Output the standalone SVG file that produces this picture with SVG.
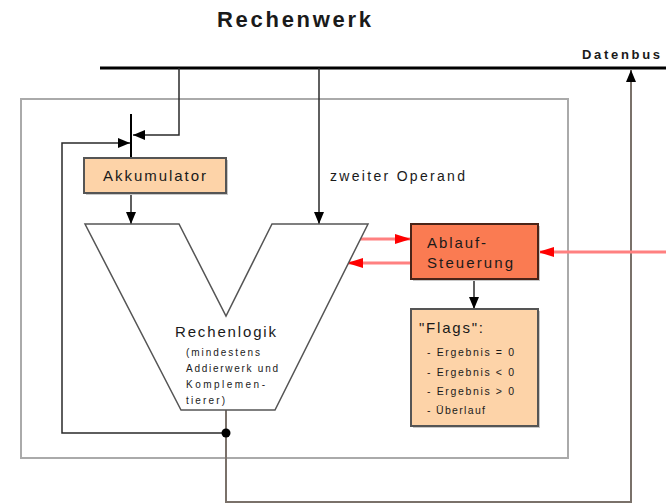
<svg xmlns="http://www.w3.org/2000/svg" width="666" height="504" viewBox="0 0 666 504">
<style>
text{font-family:"Liberation Sans",Arial,sans-serif;fill:#1a1a1a}
.c{fill:none;stroke:#2a2a2a;stroke-width:1.5}
.g{fill:none;stroke:#7a716a;stroke-width:2}
.r{fill:none;stroke:#ff8080;stroke-width:3}
.box{stroke:#555;stroke-width:2}
.sh{fill:#c8c8c8}
</style>
<defs>
<marker id="ab" markerUnits="userSpaceOnUse" markerWidth="12" markerHeight="10" viewBox="0 0 12 10" refX="12" refY="5" orient="auto">
<path d="M0,0 L12,5 L0,10 Z" fill="#000"/>
</marker>
<marker id="ar" markerUnits="userSpaceOnUse" markerWidth="16" markerHeight="10" viewBox="0 0 16 10" refX="16" refY="5" orient="auto">
<path d="M0,0 L16,5 L0,10 Z" fill="#ff0000"/>
</marker>
</defs>
<rect width="666" height="504" fill="#fff"/>
<text x="217" y="27" font-size="22" font-weight="bold" textLength="154" lengthAdjust="spacing">Rechenwerk</text>
<rect id="frame" x="21" y="99" width="547" height="359" fill="none" stroke="#aaa" stroke-width="2"/>
<g id="connectors">
<line x1="100" y1="68" x2="666" y2="68" stroke="#000" stroke-width="3"/>
<path class="c" d="M179,68 V135 H133" marker-end="url(#ab)"/>
<line x1="131" y1="114" x2="131" y2="158" stroke="#000" stroke-width="2"/>
<path class="c" d="M226,433 H62 V143 H130" marker-end="url(#ab)"/>
<path class="g" d="M226,410 V502 H631 V70" marker-end="url(#ab)"/>
<path class="c" d="M131,193 V224" marker-end="url(#ab)"/>
<path class="c" d="M319,68 V224" marker-end="url(#ab)"/>
<path class="c" d="M474,279 V309" stroke-width="2" marker-end="url(#ab)"/>
<path class="r" d="M360,239 H411" marker-end="url(#ar)"/>
<path class="r" d="M411,263 H347" marker-end="url(#ar)"/>
<path class="r" stroke-width="1.5" d="M666,252 H538" marker-end="url(#ar)"/>
<circle cx="226" cy="433" r="4.5" fill="#000"/>
</g>
<text x="582" y="59" font-size="13" font-weight="bold" textLength="78" lengthAdjust="spacing">Datenbus</text>
<text x="330" y="181" font-size="14" textLength="135" lengthAdjust="spacing">zweiter Operand</text>
<g id="akkumulator">
<rect class="sh" x="86" y="160" width="142" height="35"/>
<rect class="box" x="84" y="158" width="142" height="35" fill="#fdd3a8"/>
<text x="103" y="181" font-size="15" textLength="103" lengthAdjust="spacing">Akkumulator</text>
</g>
<g id="rechenlogik">
<path d="M85,224 H179 L226,316 L272,224 H368 L275,410 H181 Z" fill="#fff" stroke="#555" stroke-width="1.5"/>
<text x="175" y="337" font-size="15" textLength="101" lengthAdjust="spacing">Rechenlogik</text>
<text x="186" y="356" font-size="10" textLength="74" lengthAdjust="spacing">(mindestens</text>
<text x="186" y="372" font-size="10" textLength="92" lengthAdjust="spacing">Addierwerk und</text>
<text x="186" y="388" font-size="10" textLength="79" lengthAdjust="spacing">Komplemen-</text>
<text x="186" y="404" font-size="10" textLength="39" lengthAdjust="spacing">tierer)</text>
</g>
<g id="ablaufsteuerung">
<rect class="sh" x="413" y="226" width="127" height="55"/>
<rect x="411" y="224" width="127" height="55" fill="#fa7b52" stroke="#4a2418" stroke-width="2"/>
<text x="427" y="248" font-size="15" textLength="59" lengthAdjust="spacing">Ablauf-</text>
<text x="427" y="268" font-size="15" textLength="86" lengthAdjust="spacing">Steuerung</text>
</g>
<g id="flags">
<rect class="sh" x="413" y="311" width="127" height="117"/>
<rect class="box" x="411" y="309" width="127" height="117" fill="#fdd3a8"/>
<text x="419" y="333" font-size="15" textLength="64" lengthAdjust="spacing">"Flags":</text>
<text x="427" y="356" font-size="10.5" textLength="87" lengthAdjust="spacing">- Ergebnis = 0</text>
<text x="427" y="376" font-size="10.5" textLength="87" lengthAdjust="spacing">- Ergebnis &lt; 0</text>
<text x="427" y="395" font-size="10.5" textLength="87" lengthAdjust="spacing">- Ergebnis &gt; 0</text>
<text x="427" y="414" font-size="10.5" textLength="58" lengthAdjust="spacing">- Überlauf</text>
</g>
</svg>
